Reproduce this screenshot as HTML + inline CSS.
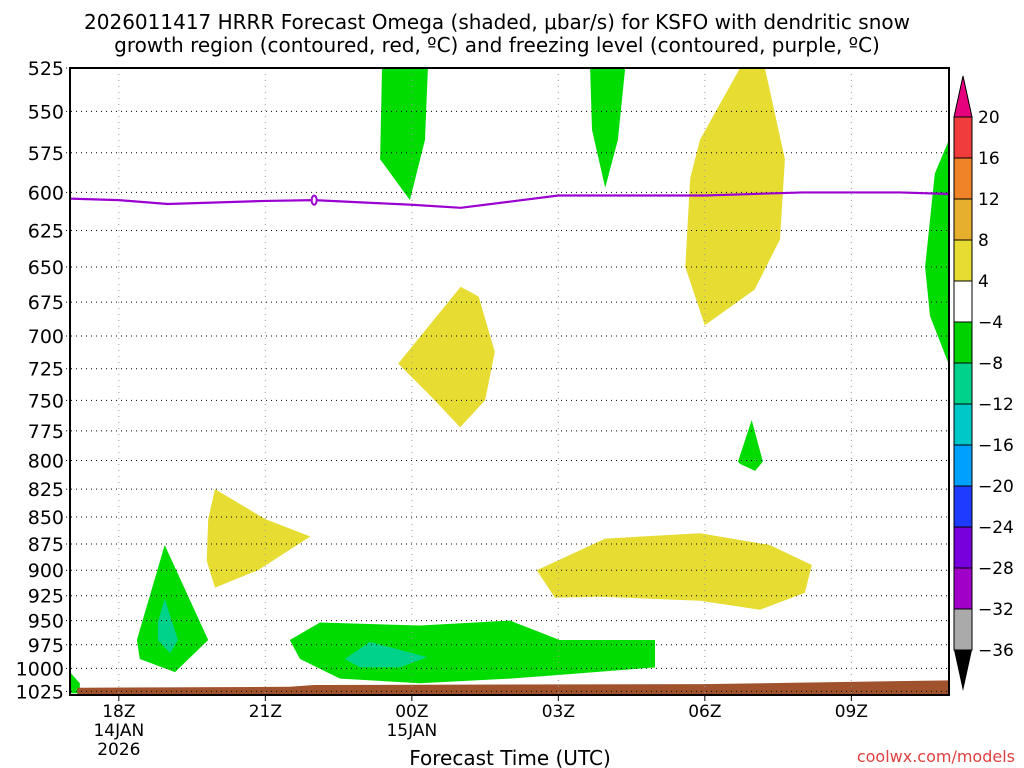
<!DOCTYPE html>
<html><head><meta charset="utf-8"><style>
html,body{margin:0;padding:0;background:#fff;}
svg{display:block;font-family:"DejaVu Sans","Liberation Sans",sans-serif;}
</style></head><body>
<svg id="chart" width="1024" height="768" xmlns="http://www.w3.org/2000/svg">
<text x="497" y="29" font-size="20" text-anchor="middle">2026011417 HRRR Forecast Omega (shaded, μbar/s) for KSFO with dendritic snow</text>
<text x="497" y="52" font-size="20" text-anchor="middle">growth region (contoured, red, ºC) and freezing level (contoured, purple, ºC)</text>
<g id="fills"></g><g id="grid"></g><g id="lines"></g><g id="axes"></g><g id="cbar"></g>
<text x="510" y="765" font-size="20" text-anchor="middle">Forecast Time (UTC)</text>
<text x="1015" y="762" font-size="16" fill="#e04040" text-anchor="end">coolwx.com/models</text>
</svg>
<script>
const NS="http://www.w3.org/2000/svg";
const pTicks=[525,550,575,600,625,650,675,700,725,750,775,800,825,850,875,900,925,950,975,1000,1025];
const xTickHours=[1,4,7,10,13,16];
const xTickLabels=[["18Z","14JAN","2026"],["21Z"],["00Z","15JAN"],["03Z"],["06Z"],["09Z"]];
const freezeH=[0,1,2,4,5,7,8,9,10,13,15,17,18];
const freezeP=[604,605,607.5,605.5,605,608,610,606,602,602,600,600,601];
const cbLevels=[20,16,12,8,4,-4,-8,-12,-16,-20,-24,-28,-32,-36];
const cbColors=["#f03c3c","#f08228","#e6af2d","#e6dc32","#ffffff","#00d200","#00d28c","#00c8c8","#00a0ff","#1e3cff","#7800dc","#a000c8","#aaaaaa"];
const regions=[
 {c:"#00dc00",pts:[[6.39,525],[7.33,525],[7.27,567],[6.96,605],[6.35,579]]},
 {c:"#00dc00",pts:[[10.65,525],[11.37,525],[11.22,567],[10.96,597],[10.69,561]]},
 {c:"#e6dc32",pts:[[12.9,567],[13.72,525],[14.23,525],[14.64,579],[14.54,631],[14.02,666],[13.0,692],[12.6,650],[12.7,591]]},
 {c:"#00dc00",pts:[[18,567],[17.71,588],[17.51,650],[17.61,685],[18,722]]},
 {c:"#e6dc32",pts:[[6.72,721],[8.0,664],[8.37,671],[8.7,712],[8.5,750],[7.99,772],[7.37,746]]},
 {c:"#00dc00",pts:[[13.68,801],[13.96,766],[14.19,801],[14.03,809],[13.72,803]]},
 {c:"#e6dc32",pts:[[2.83,852],[2.97,825],[4.0,852],[4.92,868],[3.85,900],[2.97,917],[2.8,891]]},
 {c:"#e6dc32",pts:[[9.56,900],[10.96,870],[12.9,865],[14.33,876],[15.19,895],[15.05,922],[14.13,939],[12.9,930],[10.85,926],[9.93,927]]},
 {c:"#00dc00",pts:[[1.37,970],[1.94,876],[2.83,970],[2.15,1004],[1.43,990]]},
 {c:"#00d28c",pts:[[1.8,952],[1.94,928],[2.21,970],[2.05,984],[1.8,970]]},
 {c:"#00dc00",pts:[[4.5,970],[5.12,952],[7.17,955],[9.01,950],[9.93,968],[10.03,970],[11.98,970],[11.98,999],[10.03,1007],[9.01,1011],[7.17,1016],[5.53,1011],[4.71,990]]},
 {c:"#00d28c",pts:[[5.63,990],[6.14,972],[7.31,988],[6.76,999],[5.94,999]]},
 {c:"#00dc00",pts:[[0,1004],[0.2,1016],[0.2,1027],[0,1027]]},
 {c:"#a0522d",pts:[[0.15,1021],[4.5,1020],[5,1018],[13,1017],[18,1013],[18,1031],[0.15,1031]]}
];
const X0=70,X1=949,Y0=68,Y1=695,H0=0,H1=18,P0=525,P1=1029;
const xs=h=>X0+(h-H0)/(H1-H0)*(X1-X0);
const ys=p=>Y0+Math.log(p/P0)/Math.log(P1/P0)*(Y1-Y0);
function mk(t,a,parent){const e=document.createElementNS(NS,t);for(const k in a)e.setAttribute(k,a[k]);parent.appendChild(e);return e;}
const fills=document.getElementById('fills'),grid=document.getElementById('grid'),lines=document.getElementById('lines'),axes=document.getElementById('axes'),cb=document.getElementById('cbar');
regions.forEach((r,i)=>{
 const e=mk('polygon',{points:r.pts.map(q=>xs(q[0]).toFixed(1)+','+Math.min(ys(q[1]),Y1).toFixed(1)).join(' '),fill:r.c},fills);
 
 
});
pTicks.forEach(p=>{
 const y=ys(p);
 const l=mk('line',{x1:X0-4,x2:X1,y1:y,y2:y,stroke:'#000','stroke-width':1,'stroke-dasharray':'1,4'},grid);
 
 
 const t=mk('text',{x:X0-6,y:y+7,'font-size':19,'text-anchor':'end'},axes);t.textContent=p;
 
 
});
xTickHours.forEach((h,i)=>{
 const x=xs(h);
 const l=mk('line',{x1:x,x2:x,y1:Y0,y2:Y1,stroke:'#999','stroke-width':1,'stroke-dasharray':'1,5'},grid);
 
 
 mk('line',{x1:x,x2:x,y1:Y1,y2:Y1+6,stroke:'#000'},axes);
 xTickLabels[i].forEach((s,j)=>{
  const t=mk('text',{x:x,y:Y1+22+j*19,'font-size':17,'text-anchor':'middle'},axes);t.textContent=s;
  
  
 });
});
const fl=mk('polyline',{points:freezeH.map((h,i)=>xs(h)+','+ys(freezeP[i])).join(' '),fill:'none',stroke:'#9a00d0','stroke-width':2.2},lines);


const lx=xs(5),ly=ys(605);
const lb=mk('ellipse',{cx:lx,cy:ly,rx:2.5,ry:4.5,fill:'#fff',stroke:'#9a00d0','stroke-width':2},lines);


const fr=mk('rect',{x:X0,y:Y0,width:X1-X0,height:Y1-Y0,fill:'none',stroke:'#000','stroke-width':2},axes);


const CX=954,CW=18,CT=117,CS=41;
cbColors.forEach((c,i)=>{
 const r=mk('rect',{x:CX,y:CT+i*CS,width:CW,height:CS,fill:c,stroke:'#000','stroke-width':1},cb);
 
 
});
const tt=mk('polygon',{points:`${CX},${CT} ${CX+CW},${CT} ${CX+CW/2},${CT-41}`,fill:'#e6007e',stroke:'#000'},cb);


const CB=CT+cbColors.length*CS;
const bt=mk('polygon',{points:`${CX},${CB} ${CX+CW},${CB} ${CX+CW/2},${CB+41}`,fill:'#000'},cb);


cbLevels.forEach((v,i)=>{
 const t=mk('text',{x:978,y:CT+i*CS+6,'font-size':17},cb);t.textContent=v<0?'−'+(-v):v;
 
 
});
</script>
</body></html>
